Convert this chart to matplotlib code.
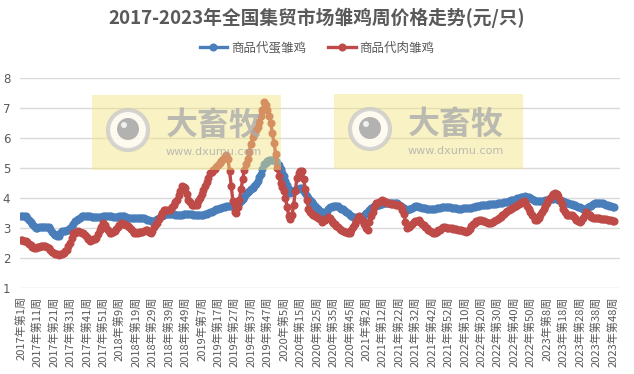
"""
 2017-2023 weekly chick prices at national rural markets (yuan per chick).
"""

import numpy as np
import matplotlib.pyplot as plt
from matplotlib.patches import Rectangle, Circle

plt.rcParams['font.family'] = ['Noto Sans CJK SC', 'DejaVu Sans']

# Categories: weeks of each year
years = [2017, 2018, 2019, 2020, 2021, 2022, 2023]
weeks_per_year = [52, 52, 52, 53, 52, 52, 52]

# 商品代蛋雏鸡 (layer chicks), weekly values
egg_2017 = [3.40, 3.40, 3.39, 3.39, 3.33, 3.27, 3.19, 3.12, 3.06, 3.01, 3.00, 3.02, 3.04, 3.05, 3.05, 3.05, 3.05, 3.03,
            2.96, 2.88, 2.80, 2.76, 2.73, 2.73, 2.82, 2.89, 2.90, 2.91, 2.92, 2.94, 3.01, 3.08, 3.15, 3.22, 3.27, 3.31,
            3.35, 3.39, 3.39, 3.40, 3.39, 3.39, 3.39, 3.38, 3.38, 3.38, 3.37, 3.37, 3.37, 3.38, 3.39, 3.40]
egg_2018 = [3.41, 3.40, 3.40, 3.39, 3.38, 3.38, 3.37, 3.38, 3.39, 3.40, 3.41, 3.39, 3.37, 3.35, 3.33, 3.33, 3.33, 3.33,
            3.33, 3.33, 3.33, 3.33, 3.33, 3.32, 3.30, 3.28, 3.26, 3.25, 3.23, 3.22, 3.26, 3.30, 3.35, 3.39, 3.41, 3.44,
            3.46, 3.48, 3.47, 3.47, 3.46, 3.46, 3.45, 3.45, 3.44, 3.44, 3.45, 3.46, 3.47, 3.48, 3.47, 3.46]
egg_2019 = [3.46, 3.45, 3.45, 3.44, 3.44, 3.43, 3.44, 3.45, 3.47, 3.48, 3.50, 3.53, 3.55, 3.57, 3.59, 3.62, 3.64, 3.66,
            3.68, 3.70, 3.71, 3.73, 3.74, 3.74, 3.74, 3.74, 3.76, 3.79, 3.82, 3.85, 3.90, 3.97, 4.05, 4.13, 4.19, 4.24,
            4.30, 4.35, 4.41, 4.47, 4.58, 4.69, 4.80, 4.96, 5.12, 5.17, 5.22, 5.26, 5.27, 5.28, 5.28, 5.23]
egg_2020 = [5.17, 5.11, 4.98, 4.85, 4.72, 4.58, 4.44, 4.31, 4.17, 4.21, 4.25, 4.28, 4.29, 4.30, 4.32, 4.33, 4.25, 4.17,
            4.08, 4.00, 3.93, 3.87, 3.80, 3.73, 3.67, 3.62, 3.58, 3.53, 3.49, 3.52, 3.58, 3.64, 3.70, 3.71, 3.72, 3.72,
            3.73, 3.72, 3.68, 3.65, 3.62, 3.58, 3.53, 3.49, 3.44, 3.40, 3.37, 3.36, 3.34, 3.33, 3.32, 3.33, 3.38]
egg_2021 = [3.43, 3.49, 3.55, 3.61, 3.67, 3.71, 3.73, 3.74, 3.76, 3.77, 3.79, 3.80, 3.82, 3.82, 3.82, 3.82, 3.82, 3.82,
            3.82, 3.82, 3.82, 3.78, 3.75, 3.71, 3.67, 3.64, 3.60, 3.63, 3.65, 3.68, 3.70, 3.73, 3.72, 3.71, 3.69, 3.68,
            3.67, 3.66, 3.65, 3.64, 3.63, 3.63, 3.64, 3.65, 3.66, 3.67, 3.68, 3.69, 3.70, 3.71, 3.70, 3.69]
egg_2022 = [3.69, 3.68, 3.67, 3.67, 3.66, 3.65, 3.65, 3.65, 3.66, 3.66, 3.66, 3.66, 3.67, 3.67, 3.69, 3.70, 3.72, 3.73,
            3.75, 3.76, 3.77, 3.77, 3.78, 3.78, 3.79, 3.79, 3.80, 3.80, 3.81, 3.82, 3.83, 3.84, 3.85, 3.86, 3.87, 3.88,
            3.90, 3.92, 3.94, 3.95, 3.97, 3.99, 4.00, 4.02, 4.03, 4.05, 4.06, 4.05, 4.02, 3.99, 3.96, 3.92]
egg_2023 = [3.91, 3.91, 3.91, 3.91, 3.91, 3.91, 3.92, 3.94, 3.95, 3.96, 3.97, 3.98, 3.99, 3.97, 3.95, 3.93, 3.91, 3.89,
            3.87, 3.85, 3.83, 3.81, 3.79, 3.77, 3.76, 3.73, 3.71, 3.69, 3.66, 3.64, 3.62, 3.65, 3.69, 3.72, 3.75, 3.79,
            3.82, 3.82, 3.82, 3.82, 3.82, 3.82, 3.80, 3.78, 3.77, 3.75, 3.73, 3.71, 3.70]

# 商品代肉雏鸡 (broiler chicks)
meat_2017 = [2.61, 2.60, 2.58, 2.57, 2.54, 2.48, 2.42, 2.36, 2.33, 2.34, 2.36, 2.38, 2.39, 2.39, 2.39, 2.39, 2.38, 2.32,
             2.27, 2.21, 2.16, 2.14, 2.12, 2.11, 2.13, 2.15, 2.17, 2.22, 2.28, 2.39, 2.50, 2.67, 2.83, 2.85, 2.87, 2.89,
             2.87, 2.85, 2.83, 2.76, 2.69, 2.63, 2.56, 2.59, 2.62, 2.64, 2.67, 2.79, 2.92, 3.04, 3.17, 3.09]
meat_2018 = [3.01, 2.93, 2.85, 2.85, 2.87, 2.89, 2.96, 3.03, 3.10, 3.16, 3.15, 3.12, 3.10, 3.07, 3.02, 2.96, 2.91, 2.85,
             2.84, 2.85, 2.86, 2.87, 2.88, 2.91, 2.95, 2.93, 2.88, 2.84, 2.91, 3.02, 3.13, 3.18, 3.29, 3.40, 3.51, 3.61,
             3.61, 3.61, 3.61, 3.61, 3.69, 3.78, 3.86, 3.94, 4.09, 4.24, 4.39, 4.36, 4.33, 4.14, 3.94, 3.86]
meat_2019 = [3.78, 3.78, 3.78, 3.78, 3.89, 4.00, 4.13, 4.26, 4.39, 4.54, 4.68, 4.83, 4.88, 4.93, 4.98, 5.03, 5.10, 5.17,
             5.24, 5.30, 5.36, 5.42, 5.30, 4.90, 4.40, 3.90, 3.55, 3.50, 3.70, 3.95, 4.30, 4.62, 4.95, 5.12, 5.30, 5.55,
             5.80, 6.02, 6.18, 6.27, 6.36, 6.55, 6.73, 6.93, 7.20, 7.10, 6.95, 6.72, 6.50, 6.18, 5.84, 5.48]
meat_2020 = [5.00, 4.75, 4.50, 4.36, 4.22, 4.00, 3.70, 3.39, 3.30, 3.45, 3.78, 4.25, 4.68, 4.82, 4.90, 4.90, 4.65, 4.30,
             3.95, 3.65, 3.55, 3.48, 3.43, 3.39, 3.36, 3.33, 3.30, 3.20, 3.22, 3.26, 3.34, 3.36, 3.35, 3.25, 3.16, 3.13,
             3.08, 3.03, 2.98, 2.93, 2.90, 2.88, 2.86, 2.85, 2.85, 2.95, 3.05, 3.15, 3.25, 3.35, 3.40, 3.30, 3.22]
meat_2021 = [3.15, 3.00, 2.95, 3.20, 3.40, 3.55, 3.70, 3.82, 3.85, 3.88, 3.90, 3.93, 3.90, 3.87, 3.84, 3.82, 3.81, 3.80,
             3.79, 3.78, 3.77, 3.76, 3.70, 3.60, 3.48, 3.20, 3.00, 3.03, 3.08, 3.14, 3.20, 3.22, 3.24, 3.26, 3.21, 3.15,
             3.09, 3.04, 2.99, 2.94, 2.90, 2.86, 2.82, 2.84, 2.88, 2.92, 2.95, 2.99, 3.03, 3.02, 3.01, 3.00]
meat_2022 = [3.00, 2.99, 2.98, 2.97, 2.96, 2.95, 2.94, 2.92, 2.91, 2.89, 2.88, 2.90, 2.98, 3.06, 3.13, 3.18, 3.22, 3.25,
             3.27, 3.27, 3.25, 3.22, 3.19, 3.17, 3.16, 3.16, 3.19, 3.23, 3.27, 3.31, 3.35, 3.38, 3.42, 3.47, 3.52, 3.56,
             3.60, 3.64, 3.67, 3.70, 3.73, 3.76, 3.80, 3.84, 3.88, 3.90, 3.86, 3.74, 3.62, 3.52, 3.45, 3.38]
meat_2023 = [3.28, 3.27, 3.35, 3.45, 3.54, 3.63, 3.73, 3.83, 3.92, 4.00, 4.07, 4.12, 4.16, 4.12, 4.07, 3.95, 3.80, 3.65,
             3.52, 3.45, 3.44, 3.43, 3.42, 3.40, 3.35, 3.28, 3.22, 3.19, 3.25, 3.35, 3.45, 3.54, 3.48, 3.42, 3.36, 3.33,
             3.33, 3.33, 3.32, 3.32, 3.31, 3.31, 3.30, 3.29, 3.28, 3.27, 3.26, 3.25, 3.24]

egg_data = egg_2017 + egg_2018 + egg_2019 + egg_2020 + egg_2021 + egg_2022 + egg_2023
meat_data = meat_2017 + meat_2018 + meat_2019 + meat_2020 + meat_2021 + meat_2022 + meat_2023

# Week category labels
week_labels = []
for year, n in zip(years, weeks_per_year):
    for w in range(1, n + 1):
        week_labels.append('%s年第%s周' % (year, w))

blue = '#4a7ebb'
red = '#be4b48'
grey_text = '#595959'

W, H = 634, 374
fig = plt.figure(figsize=(W / 100, H / 100), dpi=100)
ax = fig.add_axes([20 / W, 1 - 288 / H, 600 / W, 210 / H])

ax.plot(range(len(egg_data)), egg_data, '-o', color=blue, lw=2.4, ms=4.8, label='商品代蛋雏鸡', zorder=3)
ax.plot(range(len(meat_data)), meat_data, '-o', color=red, lw=2.4, ms=4.8, label='商品代肉雏鸡', zorder=4)

ax.set_xlim(-0.5, len(week_labels) - 0.5)
ax.set_ylim(1, 8)
ax.set_yticks(range(1, 9))
ax.yaxis.grid(True, color='#d9d9d9', lw=1)
ax.set_axisbelow(True)
for s in ax.spines.values():
    s.set_visible(False)

tick_pos = list(range(0, len(week_labels), 10))
ax.set_xticks(tick_pos)
ax.set_xticklabels([week_labels[i] for i in tick_pos], rotation=90, fontsize=8, color=grey_text)
ax.tick_params(axis='x', length=0, pad=6)
ax.tick_params(axis='y', length=0, pad=7, labelsize=8.5, labelcolor=grey_text)
for lab in ax.get_yticklabels():
    lab.set_family('DejaVu Sans')

fig.text(0.5, 1 - 18 / H, '2017-2023年全国集贸市场雏鸡周价格走势(元/只)', ha='center', va='center',
         fontsize=13.5, fontweight='bold', color=grey_text)
fig.legend(loc='center', bbox_to_anchor=(0.5, 1 - 48 / H), ncol=2, frameon=False, fontsize=9,
           handlelength=2.2, columnspacing=1.8, handletextpad=0.3, labelcolor=grey_text)

# Watermarks (大畜牧)
for bx, by in [(92, 95), (334, 94)]:
    fig.add_artist(Rectangle((bx / 100, (H - by - 75) / 100), 1.89, 0.75, transform=fig.dpi_scale_trans,
                             facecolor='#f2e47e', edgecolor='none', alpha=0.45, zorder=5))
    cx, cy = (bx + 36) / 100, (H - by - 35) / 100
    fig.add_artist(Circle((cx, cy), 0.2, transform=fig.dpi_scale_trans, facecolor='white',
                          edgecolor='#c8c8c8', lw=3, alpha=0.75, zorder=6))
    fig.add_artist(Circle((cx, cy + 0.01), 0.11, transform=fig.dpi_scale_trans, facecolor='#a0a0a0',
                          edgecolor='none', alpha=0.8, zorder=7))
    fig.add_artist(Circle((cx - 0.04, cy + 0.05), 0.03, transform=fig.dpi_scale_trans, facecolor='white',
                          edgecolor='none', alpha=0.8, zorder=8))
    fig.text((bx + 122) / W, 1 - (by + 31) / H, '大畜牧', ha='center', va='center', fontsize=23,
             fontweight='bold', color='#acacac', alpha=0.8, zorder=7)
    fig.text((bx + 122) / W, 1 - (by + 57) / H, 'www.dxumu.com', ha='center', va='center', fontsize=8,
             color='#acacac', alpha=0.8, zorder=7, family='DejaVu Sans')

plt.savefig('out.png', dpi=100)
